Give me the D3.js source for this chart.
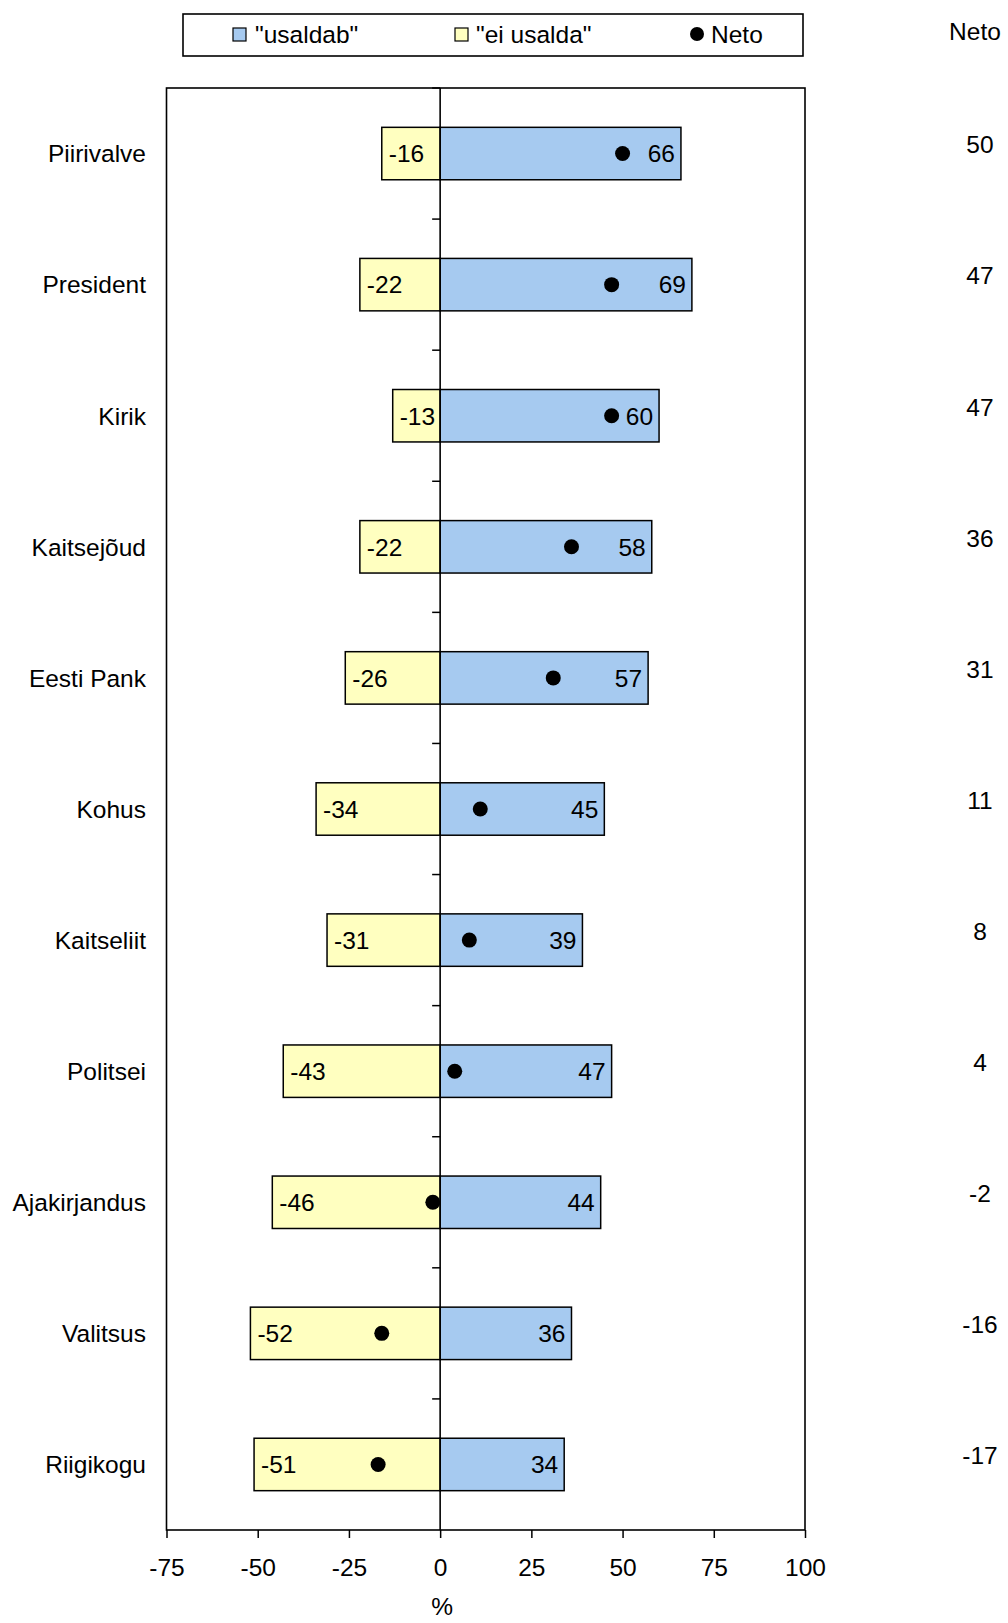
<!DOCTYPE html>
<html>
<head>
<meta charset="utf-8">
<script src="https://cdn.jsdelivr.net/npm/d3@7"></script>
<style>
  html, body { margin: 0; padding: 0; background: #fff; }
  svg { display: block; font-family: "Liberation Sans", Arial, sans-serif; }
</style>
</head>
<body>
<svg id="chart" width="1008" height="1623"></svg>
<script>
const categories = ["Piirivalve","President","Kirik","Kaitsejõud","Eesti Pank","Kohus","Kaitseliit","Politsei","Ajakirjandus","Valitsus","Riigikogu"];
const trust = [66,69,60,58,57,45,39,47,44,36,34];
const distrust = [-16,-22,-13,-22,-26,-34,-31,-43,-46,-52,-51];
const neto = [50,47,47,36,31,11,8,4,-2,-16,-17];
const xTicks = [-75,-50,-25,0,25,50,75,100];
const legendLabels = ['"usaldab"','"ei usalda"','Neto'];
const netoHeader = "Neto";
const xTitle = "%";

(function () {
const colors = { trust: "#A6CAF0", distrust: "#FFFFC0" };
const FS = 24.5;

const svg = d3.select("#chart");
const pLeft = 166.5, pRight = 805, pTop = 88, pBottom = 1530;

const x = d3.scaleLinear().domain([-75, 100]).range([pLeft, pRight]);
const y = d3.scaleBand().domain(categories).range([pTop, pBottom]).paddingInner(0.6).paddingOuter(0.3);
const step = y.step();

const rows = categories.map((c, i) => ({ cat: c, trust: trust[i], distrust: distrust[i], neto: neto[i] }));

// plot frame
svg.append("rect").attr("x", pLeft).attr("y", pTop).attr("width", pRight - pLeft).attr("height", pBottom - pTop)
  .attr("fill", "none").attr("stroke", "#000").attr("stroke-width", 1.6);

// bars
const g = svg.append("g");
g.selectAll("rect.trust").data(rows).join("rect").attr("class", "trust")
  .attr("x", x(0)).attr("y", d => y(d.cat)).attr("width", d => x(d.trust) - x(0)).attr("height", y.bandwidth())
  .attr("fill", colors.trust).attr("stroke", "#000").attr("stroke-width", 1.5);
g.selectAll("rect.distrust").data(rows).join("rect").attr("class", "distrust")
  .attr("x", d => x(d.distrust)).attr("y", d => y(d.cat)).attr("width", d => x(0) - x(d.distrust)).attr("height", y.bandwidth())
  .attr("fill", colors.distrust).attr("stroke", "#000").attr("stroke-width", 1.5);

// zero line with ticks at band boundaries
svg.append("line").attr("x1", x(0)).attr("x2", x(0)).attr("y1", pTop).attr("y2", pBottom)
  .attr("stroke", "#000").attr("stroke-width", 1.6);
const boundaries = d3.range(0, categories.length).map(i => pTop + i * step);
svg.selectAll("line.ztick").data(boundaries).join("line").attr("class", "ztick")
  .attr("x1", x(0) - 8).attr("x2", x(0)).attr("y1", d => d).attr("y2", d => d)
  .attr("stroke", "#000").attr("stroke-width", 1.5);

// value labels
g.selectAll("text.tl").data(rows).join("text").attr("class", "tl")
  .attr("x", d => x(d.trust) - 6).attr("y", d => y(d.cat) + y.bandwidth() / 2)
  .attr("dy", "0.36em").attr("text-anchor", "end").attr("font-size", FS).text(d => d.trust);
g.selectAll("text.dl").data(rows).join("text").attr("class", "dl")
  .attr("x", d => x(d.distrust) + 7).attr("y", d => y(d.cat) + y.bandwidth() / 2)
  .attr("dy", "0.36em").attr("text-anchor", "start").attr("font-size", FS).text(d => d.distrust);

// dots
g.selectAll("circle.neto").data(rows).join("circle").attr("class", "neto")
  .attr("cx", d => x(d.neto)).attr("cy", d => y(d.cat) + y.bandwidth() / 2).attr("r", 7.5).attr("fill", "#000");

// category labels
svg.selectAll("text.cat").data(rows).join("text").attr("class", "cat")
  .attr("x", 146).attr("y", d => y(d.cat) + y.bandwidth() / 2).attr("dy", "0.36em")
  .attr("text-anchor", "end").attr("font-size", FS).text(d => d.cat);

// x axis
const xAxis = d3.axisBottom(x).tickValues(xTicks).tickSize(8).tickPadding(21).tickFormat(d => String(d));
const ax = svg.append("g").attr("transform", `translate(0,${pBottom})`).call(xAxis);
ax.select(".domain").remove();
ax.selectAll(".tick line").attr("stroke", "#000").attr("stroke-width", 1.5);
ax.selectAll(".tick text").attr("font-size", FS).attr("font-family", "Liberation Sans, Arial, sans-serif").attr("fill", "#000");
svg.append("text").attr("x", x(0) + 2).attr("y", 1606).attr("dy", "0.36em").attr("text-anchor", "middle")
  .attr("font-size", FS).text(xTitle);

// neto column
svg.append("text").attr("x", 975).attr("y", 31).attr("dy", "0.36em").attr("text-anchor", "middle")
  .attr("font-size", FS).text(netoHeader);
svg.selectAll("text.nv").data(rows).join("text").attr("class", "nv")
  .attr("x", 980).attr("y", d => y(d.cat) + y.bandwidth() / 2 - 9).attr("dy", "0.36em")
  .attr("text-anchor", "middle").attr("font-size", FS).text(d => d.neto);

// legend
const lg = svg.append("g");
lg.append("rect").attr("x", 183).attr("y", 14).attr("width", 620).attr("height", 42)
  .attr("fill", "#fff").attr("stroke", "#000").attr("stroke-width", 1.6);
const ly = 34;
lg.append("rect").attr("x", 233).attr("y", ly - 6).attr("width", 13).attr("height", 13)
  .attr("fill", colors.trust).attr("stroke", "#000").attr("stroke-width", 1.2);
lg.append("text").attr("x", 255).attr("y", ly).attr("dy", "0.36em").attr("font-size", FS).text(legendLabels[0]);
lg.append("rect").attr("x", 455).attr("y", ly - 6).attr("width", 13).attr("height", 13)
  .attr("fill", colors.distrust).attr("stroke", "#000").attr("stroke-width", 1.2);
lg.append("text").attr("x", 476).attr("y", ly).attr("dy", "0.36em").attr("font-size", FS).text(legendLabels[1]);
lg.append("circle").attr("cx", 697).attr("cy", ly).attr("r", 7).attr("fill", "#000");
lg.append("text").attr("x", 711).attr("y", ly).attr("dy", "0.36em").attr("font-size", FS).text(legendLabels[2]);
})();
</script>
</body>
</html>
